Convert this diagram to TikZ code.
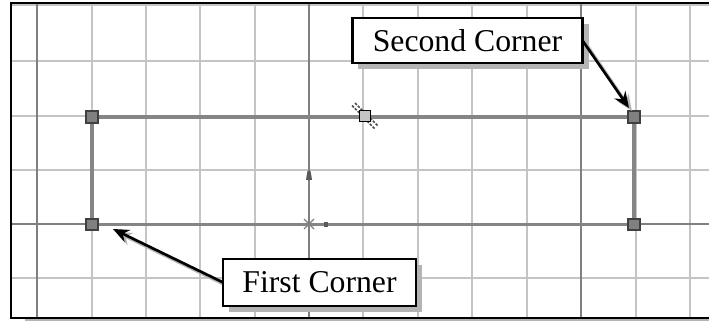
\documentclass[tikz,border=0pt]{standalone}
\usepackage{fontspec}
\setmainfont{Liberation Serif}
\usetikzlibrary{arrows.meta}
\definecolor{gridlight}{HTML}{C4C4C4}
\definecolor{griddark}{HTML}{808080}
\definecolor{sketchgray}{HTML}{858585}
\definecolor{shadowgray}{HTML}{B4B4B4}
\tikzset{
  x=0.75pt,y=-0.75pt,
  lightline/.style={draw=gridlight,line width=1.6pt},
  darkline/.style={draw=griddark,line width=1.3pt},
  sketchline/.style={draw=sketchgray,line width=2.8pt},
  corner/.style={draw=black!75,fill=griddark,line width=1.3pt,minimum size=8.6pt,inner sep=0pt,outer sep=0pt},
  calloutbox/.style={draw=black,fill=white,line width=1.7pt,inner sep=0pt,outer sep=0pt,font=\fontsize{23.8}{26}\selectfont},
  pointer/.style={draw=black,line width=2pt,-{Stealth[length=12pt,width=10pt]}},
  pointershadow/.style={draw=shadowgray,line width=2pt,-{Stealth[length=12pt,width=10pt]}},
  hash/.style={draw=griddark!60!black,line width=1.2pt,dash pattern=on 2pt off 1pt},
}
\begin{document}
\begin{tikzpicture}
\useasboundingbox (0,0) rectangle (709,323);
\fill[white] (0,0) rectangle (709,323);
% frame shadow
\fill[shadowgray] (25,318) rectangle (709,321.5);
\fill[white] (11,3) rectangle (709,318);
% grid
\foreach \gx in {92,146,200,255,363,418,472,527,636,690}
  \draw[lightline] (\gx,4) -- (\gx,318);
\foreach \gy in {5,61,116,170,278}
  \draw[lightline] (11,\gy) -- (709,\gy);
\draw[darkline] (11,224) -- (709,224);
\foreach \gx in {37,309,581}
  \draw[darkline] (\gx,4) -- (\gx,318);
% frame
\draw[black,line width=1.5pt] (709,3) -- (10.5,3) -- (10.5,318.5) -- (709,318.5);
% sketched rectangle
\node[corner] (c1) at (92,224.5) {};
\node[corner] (c2) at (634,117) {};
\node[corner] (c3) at (92,117) {};
\node[corner] (c4) at (634,224.5) {};
\draw[sketchline] (c3) -- (c2);
\draw[sketchline] (c2) -- (c4);
\draw[sketchline] (c4) -- (c1);
\draw[sketchline] (c1) -- (c3);
\node[corner] at (c1) {};
\node[corner] at (c2) {};
\node[corner] at (c3) {};
\node[corner] at (c4) {};
% midpoint handle
\draw[hash] (352,105.5) -- (360,113.5);
\draw[hash] (355,103) -- (363,111);
\draw[hash] (367,121) -- (375,129);
\draw[hash] (370,118) -- (378,126);
\node[draw=black,fill=gridlight,line width=1.2pt,minimum size=8.5pt,inner sep=0pt] (mid) at (365,116) {};
% origin marks
\draw[griddark,line width=1pt] (304,219) -- (314,229) (304,229) -- (314,219) (309,217.5) -- (309,230.5);
\fill[griddark!70!black] (323.5,222) rectangle (327.5,227);
\fill[griddark!70!black] (306,180) -- (312,180) -- (311.5,176.5) -- (310.5,171) -- (307.5,171) -- (306.5,176.5) -- cycle;
% callouts
\fill[shadowgray] (358,24) rectangle (589,69);
\fill[shadowgray] (229,265) rectangle (422,312);
\coordinate (secondtip) at (629,108);
\coordinate (firsttip) at (113,229);
\coordinate (secondshadow) at (583,40.5);
\coordinate (firstshadow) at (223,282.5);
\draw[pointershadow] ([shift={(3,3)}]secondshadow) -- ([shift={(3,3)}]secondtip);
\draw[pointershadow] ([shift={(3,3)}]firstshadow) -- ([shift={(3,3)}]firsttip);
\node[calloutbox,minimum width=172.5pt,minimum height=33.5pt] (second) at (467.5,40.5) {Second Corner};
\node[calloutbox,minimum width=144.5pt,minimum height=35pt] (first) at (319.5,282.5) {First Corner};
\draw[pointer] (second.east) -- (secondtip);
\draw[pointer] (first.west) -- (firsttip);
\end{tikzpicture}
\end{document}
